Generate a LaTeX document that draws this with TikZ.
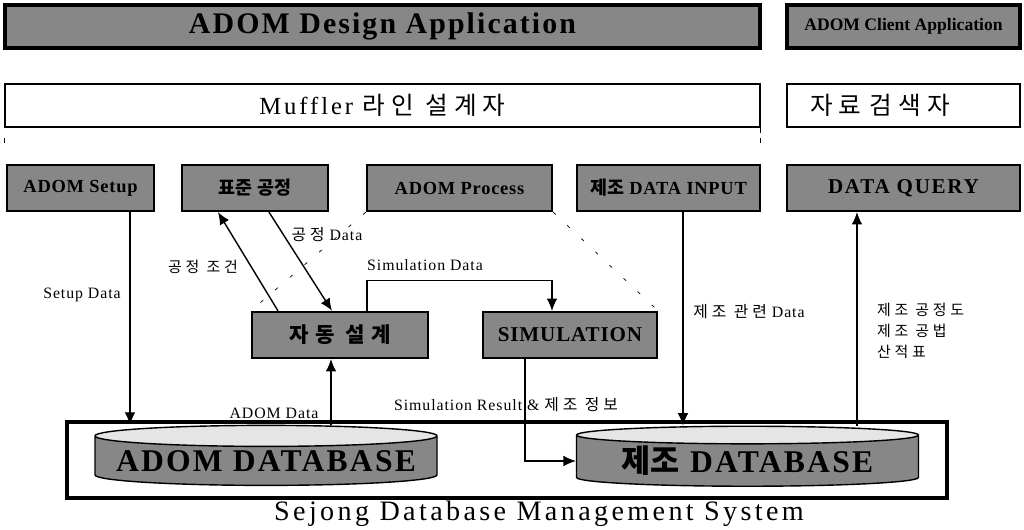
\documentclass[tikz,border=0pt]{standalone}
\usepackage{fontspec}
\setmainfont{Liberation Serif}
\newfontfamily\kr{Noto Sans CJK KR}
\usetikzlibrary{arrows.meta, shapes.geometric}
\colorlet{dither}{black!47}
\tikzset{
  appbox/.style={draw, line width=2.2pt, fill=dither, inner sep=0pt, minimum height=0.86cm},
  rolebox/.style={draw, semithick, inner sep=0pt, minimum height=0.86cm},
  modbox/.style={draw, line width=1.3pt, fill=dither, inner sep=0pt, minimum height=0.92cm,
    font=\fontsize{10.5}{12}\selectfont\bfseries\addfontfeature{LetterSpace=4}},
  dbase/.style={cylinder, shape border rotate=90, aspect=0.07, draw, thick,
    cylinder uses custom fill, cylinder body fill=dither, cylinder end fill=gray!20,
    minimum width=6.84cm, minimum height=1.2cm, inner sep=0pt,
    font=\fontsize{18}{20}\selectfont\bfseries\addfontfeature{LetterSpace=7}},
  flow/.style={-{Latex[length=7pt,width=6pt]}, semithick},
  lbl/.style={font=\fontsize{9}{11}\selectfont\addfontfeature{LetterSpace=6}, inner sep=1pt},
  krlbl/.style={font=\kr\fontsize{8.5}{12}\selectfont\addfontfeature{LetterSpace=25}, inner sep=1pt},
  zoomline/.style={thin, dash pattern=on 2pt off 9pt},
}

\begin{document}
\begin{tikzpicture}
\useasboundingbox (0,0) rectangle (20.48,10.6);
% applications
\node[appbox, minimum width=15.1cm, font=\fontsize{17}{20}\selectfont\bfseries\addfontfeature{LetterSpace=7}] (design) at (7.65,10.07) {ADOM Design Application};
\node[appbox, minimum width=4.66cm, font=\fontsize{10}{12}\selectfont\bfseries] (client) at (18.07,10.07) {ADOM Client Application};
% users
\node[rolebox, minimum width=15.1cm, font=\fontsize{14}{16}\selectfont\addfontfeature{LetterSpace=12}] (muffler) at (7.65,8.49) {Muffler {\kr\addfontfeature{LetterSpace=25} 라인 설계자}};
\node[rolebox, minimum width=4.66cm, inner xsep=0.46cm, text width=3.74cm, align=left, font=\kr\fontsize{14}{16}\selectfont\addfontfeature{LetterSpace=25}] (searcher) at (18.07,8.49) {자료 검색자};
\draw[dashed, thin] (muffler.south east) -- ++(0,-0.4);
\draw[dashed, thin] (muffler.south west) ++(0,-0.2) -- ++(0,-0.1);
% modules
\node[modbox, minimum width=2.94cm] (setup) at (1.61,6.84) {ADOM Setup};
\node[modbox, minimum width=2.92cm] (std) at (5.1,6.84) {\kr 표준 공정};
\node[modbox, minimum width=3.7cm] (process) at (9.19,6.84) {ADOM Process};
\node[modbox, minimum width=3.66cm] (input) at (13.37,6.84) {{\kr 제조} DATA INPUT};
\node[modbox, minimum width=4.66cm, font=\fontsize{12}{14}\selectfont\bfseries\addfontfeature{LetterSpace=8}] (query) at (18.07,6.84) {DATA QUERY};
% ADOM Process parts
\node[modbox, minimum width=3.52cm, font=\kr\fontsize{12}{14}\selectfont\bfseries\addfontfeature{LetterSpace=30}] (auto) at (6.8,3.9) {자동 설계};
\node[modbox, minimum width=3.48cm, font=\fontsize{12}{14}\selectfont\bfseries\addfontfeature{LetterSpace=4}] (sim) at (11.4,3.9) {SIMULATION};
\draw[zoomline] (process.south west) -- (auto.north west);
\draw[zoomline] (process.south east) -- (sim.north east);
% DBMS
\node[draw, line width=2.5pt, minimum width=17.6cm, minimum height=1.52cm, inner sep=0pt] (sejong) at (10.14,1.4) {};
\node[font=\fontsize{16}{18}\selectfont\addfontfeature{LetterSpace=12}] (sejongname) at (10.78,0.32) {Sejong Database Management System};
\node[dbase] (adomdb) at (5.32,1.38) {ADOM DATABASE};
\node[dbase] (jodb) at (14.95,1.38) {{\kr 제조} DATABASE};
% data flows
\draw[flow] ([xshift=0.99cm]setup.south) -- ([xshift=0.99cm]setup.south |- adomdb.north);
\draw[flow] ([xshift=1.3cm]adomdb.north) -- ([xshift=1.3cm]adomdb.north |- auto.south);
\draw[flow, thick] ([xshift=-1.24cm]auto.north) -- ([xshift=-0.74cm]std.south);
\draw[flow, thick] ([xshift=0.28cm]std.south) -- ([xshift=-0.16cm]auto.north);
\draw[flow] ([xshift=0.54cm]auto.north) -- ++(0,0.6) -| ([xshift=-0.36cm]sim.north);
\draw[flow] ([xshift=-0.9cm]sim.south) |- (jodb.west);
\draw[flow] ([xshift=0.29cm]input.south) -- ([xshift=0.29cm]input.south |- jodb.north);
\draw[flow] ([xshift=-0.93cm]query.south |- jodb.north) -- ([xshift=-0.93cm]query.south);
% flow labels
\node[lbl] (setuplbl) at (1.64,4.7) {Setup Data};
\node[krlbl] (condlbl) at (4.06,5.26) {공정 조건};
\node[lbl] (stddatalbl) at (6.54,5.9) {{\kr\addfontfeature{LetterSpace=25} 공정} Data};
\node[lbl] (simdatalbl) at (8.5,5.3) {Simulation Data};
\node[lbl] (adomdatalbl) at (5.48,2.34) {ADOM Data};
\node[lbl] (resultlbl) at (10.12,2.5) {Simulation Result \& {\kr\addfontfeature{LetterSpace=25} 제조 정보}};
\node[lbl] (inputlbl) at (14.98,4.36) {{\kr\addfontfeature{LetterSpace=25} 제조 관련} Data};
\node[krlbl, align=left, anchor=west] (querylbl) at (17.5,3.98) {제조 공정도\\제조 공법\\산적표};
\end{tikzpicture}
\end{document}
